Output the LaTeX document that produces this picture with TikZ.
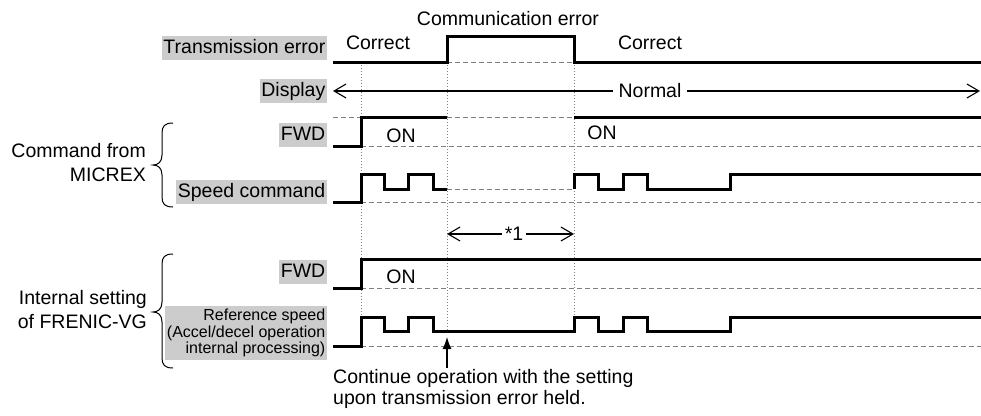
\documentclass[tikz,border=0pt]{standalone}
\usepackage{fontspec}
\setmainfont{Liberation Sans}
\usetikzlibrary{arrows.meta}
\definecolor{lblgray}{RGB}{204,204,204}
\definecolor{refgray}{RGB}{128,128,128}
\begin{document}
\begin{tikzpicture}[x=1pt,y=-1pt,
  sig/.style={line width=3pt, line join=miter, line cap=butt},
  refline/.style={refgray, line width=0.9pt, dash pattern=on 5pt off 3pt},
  tickline/.style={refgray, line width=0.9pt, dash pattern=on 1pt off 2pt},
  lbl/.style={fill=lblgray, inner xsep=1.5pt, inner ysep=3pt, anchor=east, text height=14pt, text depth=4pt, font=\fontsize{19.5}{24}\selectfont},
  txt/.style={font=\fontsize{19.5}{24}\selectfont, inner sep=0pt},
  barbs/.style={line width=1.1pt, {Straight Barb[length=12pt,width=14pt]}-{Straight Barb[length=12pt,width=14pt]}},
  bracestyle/.style={line width=1pt},
]
\useasboundingbox (0,0) rectangle (981,415);

% ---- labels ----
\node[lbl] (lTE) at (327,48) {Transmission error};
\node[lbl] (lDisp) at (327,91) {Display};
\node[lbl] (lFWD1) at (327,135) {FWD};
\node[lbl] (lSpd) at (327,192) {Speed command};
\node[lbl] (lFWD2) at (327,272) {FWD};
\node[fill=lblgray, anchor=east, inner xsep=1.5pt, inner ysep=3pt, align=right,
      font=\fontsize{16}{16.5}\selectfont] (lRef) at (327,333)
      {Reference speed\\(Accel/decel operation\\internal processing)};

\node[txt, anchor=east, align=right] (gCmd) at (146,163) {Command from\\MICREX};
\node[txt, anchor=east, align=right] (gInt) at (147,310) {Internal setting\\of FRENIC-VG};

% braces
\draw[bracestyle] (173,123) .. controls (165,123) and (162,126) .. (162,133) -- (162,155)
  .. controls (162,162) and (158,165) .. (153,165)
  .. controls (158,165) and (162,168) .. (162,175) -- (162,197)
  .. controls (162,204) and (165,207) .. (173,207);
\draw[bracestyle] (173,254) .. controls (165,254) and (162,257) .. (162,264) -- (162,302)
  .. controls (162,309) and (158,312) .. (153,312)
  .. controls (158,312) and (162,315) .. (162,322) -- (162,358)
  .. controls (162,365) and (165,368) .. (173,368);

% ---- dotted time markers ----
\coordinate (t1a) at (361,62);  \coordinate (t1b) at (361,317);
\coordinate (t2a) at (447,62);  \coordinate (t2b) at (447,331);
\coordinate (t3a) at (574,62);  \coordinate (t3b) at (574,317);
\draw[tickline] (t1a) -- (t1b);
\draw[tickline] (t2a) -- (t2b);
\draw[tickline] (t3a) -- (t3b);

% ---- transmission error ----
\draw[refline] (447,62) -- (574,62);
\draw[sig] (333,62) -- (447,62) -- (447,36) -- (574,36) -- (574,62) -- (981,62);
\node[txt] (tCor1) at (378,43) {Correct};
\node[txt] (tComm) at (508,19) {Communication error};
\node[txt] (tCor2) at (650,43) {Correct};

% ---- display ----
\coordinate (dL) at (333,91);
\coordinate (dR) at (980,91);
\draw[barbs] (dL) -- (dR);
\node[txt, fill=white, inner xsep=6pt, inner ysep=2pt] (tNorm) at (650,91) {Normal};

% ---- command FWD ----
\draw[refline] (333,117) -- (361,117);
\draw[refline] (447,117) -- (574,117);
\draw[refline] (361,146) -- (981,146);
\draw[sig] (333,146) -- (361,146) -- (361,117) -- (447,117);
\draw[sig] (574,117) -- (981,117);
\node[txt] (tOn1) at (401,136) {ON};
\node[txt] (tOn2) at (602,133) {ON};

% ---- speed command ----
\draw[refline] (447,189) -- (574,189);
\draw[refline] (361,202) -- (981,202);
\draw[sig] (333,202) -- (361,202) -- (361,174) -- (384,174) -- (384,189) -- (408,189)
  -- (408,174) -- (433,174) -- (433,189) -- (447,189);
\draw[sig] (574,189) -- (574,174) -- (598,174) -- (598,189) -- (623,189) -- (623,174)
  -- (647,174) -- (647,189) -- (730,189) -- (730,174) -- (981,174);

% ---- *1 ----
\coordinate (sL) at (447,234);
\coordinate (sR) at (574,234);
\draw[barbs] (sL) -- (sR);
\node[txt, fill=white, inner xsep=3pt, inner ysep=2pt] (tStar) at (514,234) {*1};

% ---- internal FWD ----
\draw[refline] (361,288) -- (981,288);
\draw[sig] (333,288) -- (361,288) -- (361,259) -- (981,259);
\node[txt] (tOn3) at (401,277) {ON};

% ---- reference speed ----
\draw[refline] (361,346) -- (981,346);
\draw[sig] (333,346) -- (361,346) -- (361,317) -- (384,317) -- (384,331) -- (408,331)
  -- (408,317) -- (433,317) -- (433,331) -- (574,331) -- (574,317) -- (598,317)
  -- (598,331) -- (623,331) -- (623,317) -- (647,317) -- (647,331) -- (730,331)
  -- (730,317) -- (981,317);

% ---- note ----
\coordinate (nB) at (447,368);
\coordinate (nT) at (447,337);
\draw[line width=1.1pt, -{Latex[length=12pt,width=9pt]}] (nB) -- (nT);
\node[anchor=north west, align=left, inner sep=0pt,
      font=\fontsize{19.5}{21}\selectfont] (tNote) at (333,369)
      {Continue operation with the setting\\upon transmission error held.};
\end{tikzpicture}
\end{document}
